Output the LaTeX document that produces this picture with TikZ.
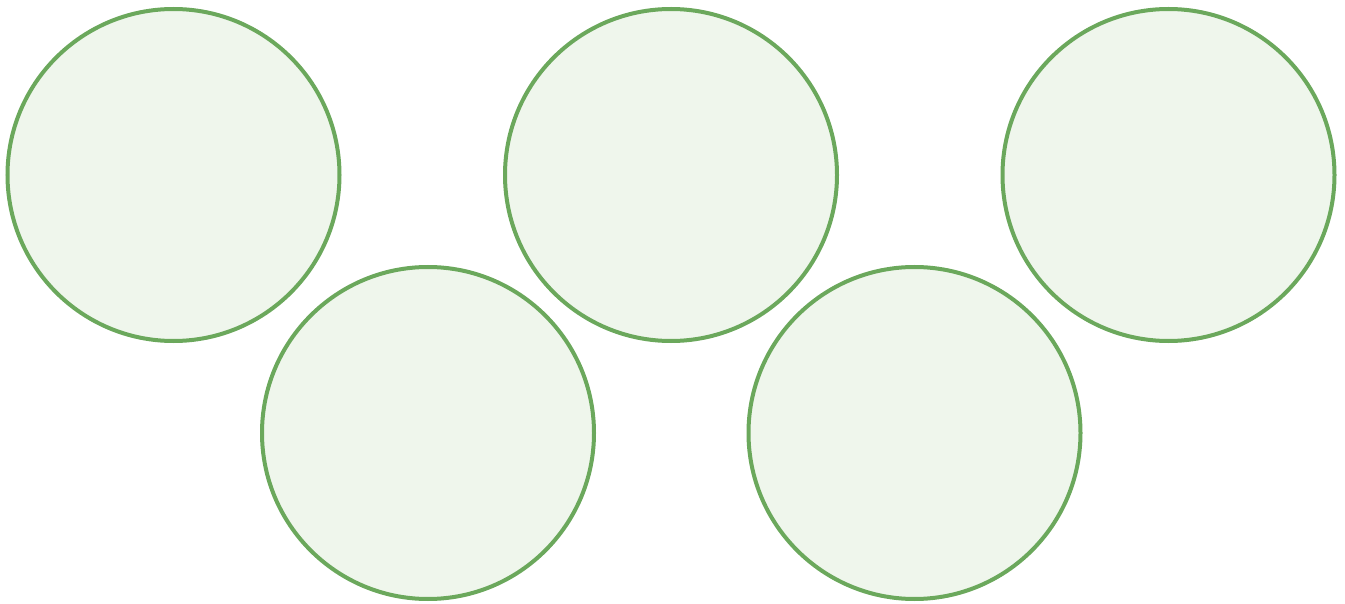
\documentclass[tikz,border=0pt]{standalone}
\definecolor{ringline}{HTML}{6BA85C}
\definecolor{ringfill}{HTML}{EFF6EC}
\begin{document}
\begin{tikzpicture}[x=1pt,y=-1pt,
  ring/.style={circle,draw=ringline,fill=ringfill,line width=4pt,minimum size=332pt,inner sep=0pt}]
\useasboundingbox (0,0) rectangle (1345,604);
\node[ring] (c1) at (173.5,175) {};
\node[ring] (c2) at (671,175) {};
\node[ring] (c3) at (1168.5,175) {};
\node[ring] (c4) at (428,433) {};
\node[ring] (c5) at (914.5,433) {};
\end{tikzpicture}
\end{document}
